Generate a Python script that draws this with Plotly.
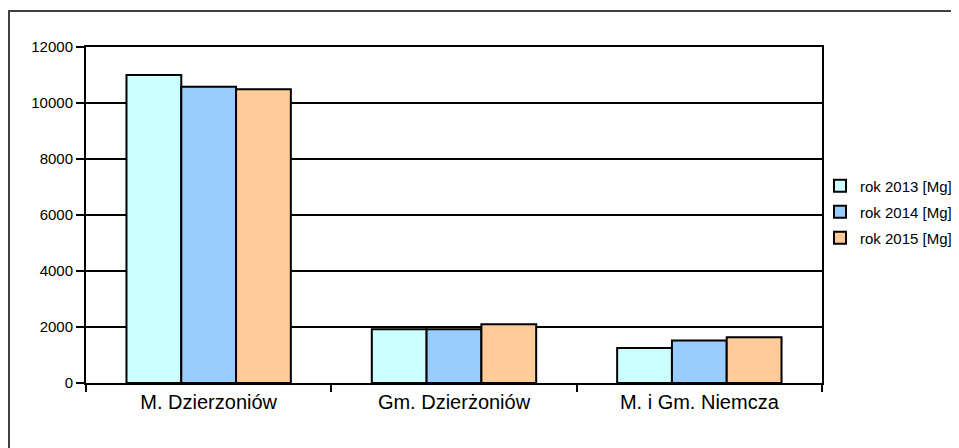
import plotly.graph_objects as go

categories = ["M. Dzierzoniów", "Gm. Dzierżoniów", "M. i Gm. Niemcza"]
series_names = ["rok 2013 [Mg]", "rok 2014 [Mg]", "rok 2015 [Mg]"]
values_2013 = [11000, 1920, 1250]
values_2014 = [10580, 1920, 1520]
values_2015 = [10490, 2100, 1630]
colors = ["#CCFFFF", "#99CCFF", "#FFCC99"]
y_ticks = [0, 2000, 4000, 6000, 8000, 10000, 12000]
y_ticktext = [str(v) for v in y_ticks]

fig = go.Figure()
for i, (name, vals, col) in enumerate(zip(series_names, [values_2013, values_2014, values_2015], colors)):
    fig.add_trace(go.Bar(
        x=categories, y=vals, name=name, legendgroup=f"g{i}",
        marker=dict(color=col, line=dict(color="black", width=2)),
    ))

# page body has an 8px margin, so figure coords = screen coords - 8
OFF = 8
W, H = 959, 448
L, T = 86 - OFF, 47 - OFF
R = W - (822 - OFF)
B = H - (383 - OFF)
pw = W - L - R
ph = H - T - B

fig.update_layout(
    width=W, height=H,
    margin=dict(l=L, r=R, t=T, b=B, pad=0, autoexpand=False),
    paper_bgcolor="white", plot_bgcolor="white",
    barmode="group", bargap=0.33, bargroupgap=0,
    font=dict(family="Liberation Sans, Arial, sans-serif", color="black"),
    showlegend=True,
    legend=dict(x=(820 - OFF - L) / pw, y=(H - B - (212 - OFF)) / ph, xanchor="left", yanchor="middle",
                font=dict(size=15), bgcolor="rgba(0,0,0,0)", borderwidth=0,
                tracegroupgap=3.5, itemwidth=30),
    xaxis=dict(
        showline=True, linecolor="black", linewidth=2, mirror=True,
        ticks="outside", ticklen=7, tickwidth=2, tickcolor="black",
        tickson="boundaries", showgrid=False, automargin=False,
        tickfont=dict(size=20),
    ),
    yaxis=dict(
        range=[0, 12000], tickmode="array", tickvals=y_ticks, ticktext=y_ticktext,
        showline=True, linecolor="black", linewidth=2, mirror=True,
        ticks="outside", ticklen=8, tickwidth=2, tickcolor="black",
        showgrid=True, gridcolor="black", gridwidth=2, automargin=False,
        tickfont=dict(size=15), zeroline=False,
    ),
    shapes=[dict(type="rect", xref="paper", yref="paper",
                 x0=(9 - OFF - L) / pw, x1=(W + 20 - L) / pw,
                 y0=(H - B - (H + 20)) / ph, y1=(H - B - (11 - OFF)) / ph,
                 line=dict(color="#404040", width=2), layer="below")],
)

fig.write_html("out.html")
